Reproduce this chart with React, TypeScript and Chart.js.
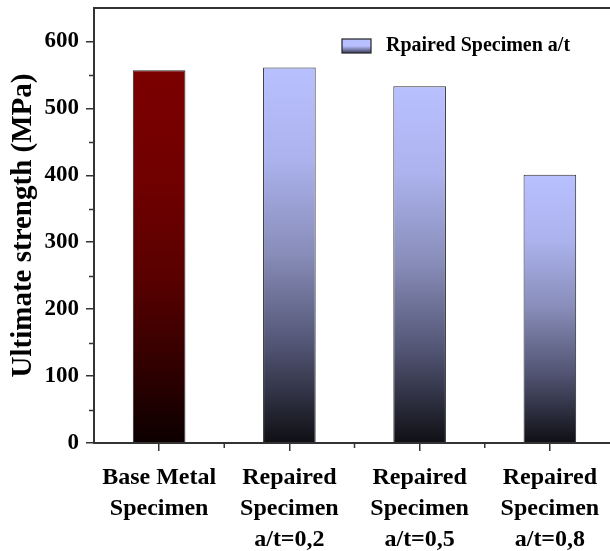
import React, { useEffect, useRef } from "react";
import { Chart, registerables } from "chart.js";

Chart.register(...registerables);

const CATEGORIES: string[][] = [
  ["Base Metal", "Specimen"],
  ["Repaired", "Specimen", "a/t=0,2"],
  ["Repaired", "Specimen", "a/t=0,5"],
  ["Repaired", "Specimen", "a/t=0,8"],
];
const STRENGTH = [557, 561, 533, 401];
const Y_TICKS = [0, 100, 200, 300, 400, 500, 600];
const Y_MINOR_TICKS = [50, 150, 250, 350, 450, 550];
const Y_MAX = 650;
const LEGEND_LABEL = "Rpaired Specimen a/t";
const Y_TITLE = "Ultimate strength (MPa)";

const FONT = "'Liberation Serif', 'Times New Roman', serif";
const AXIS_COLOR = "#333333";
const BASE_STOPS: [number, string][] = [
  [0, "#7c0000"],
  [0.3, "#700000"],
  [0.55, "#5a0000"],
  [0.8, "#300000"],
  [1, "#0c0000"],
];
const REP_STOPS: [number, string][] = [
  [0, "#b9c0ff"],
  [0.25, "#abb2ec"],
  [0.5, "#878cb8"],
  [0.75, "#4f5270"],
  [1, "#0f0f14"],
];
const REP_TOP = "#b9c0ff";

const framePlugin = {
  id: "frameAndLegend",
  afterDatasetsDraw(chart: any) {
    const { ctx, chartArea: a, scales } = chart;
    if (!a) return;
    ctx.save();
    ctx.strokeStyle = AXIS_COLOR;
    ctx.lineWidth = 2;
    ctx.strokeRect(a.left, a.top, a.right - a.left, a.bottom - a.top);
    ctx.lineWidth = 1.5;
    ctx.beginPath();
    for (const v of Y_MINOR_TICKS) {
      const py = Math.round(scales.y.getPixelForValue(v)) + 0.5;
      ctx.moveTo(a.left - 5, py);
      ctx.lineTo(a.left, py);
    }
    const n = CATEGORIES.length;
    const w = (a.right - a.left) / n;
    for (let i = 1; i <= n; i++) {
      const px = a.left + i * w;
      ctx.moveTo(px, a.bottom);
      ctx.lineTo(px, a.bottom + 5);
    }
    ctx.stroke();

    // legend (inside plot area)
    const sx = 342, sy = 39, sw = 29, sh = 14;
    const g = ctx.createLinearGradient(0, sy, 0, sy + sh);
    g.addColorStop(0, REP_TOP);
    g.addColorStop(0.5, REP_TOP);
    g.addColorStop(1, "#3a3c58");
    ctx.fillStyle = g;
    ctx.fillRect(sx, sy, sw, sh);
    ctx.lineWidth = 1.2;
    ctx.strokeStyle = "#222";
    ctx.strokeRect(sx, sy, sw, sh);
    ctx.fillStyle = "#000";
    ctx.font = `bold 20px ${FONT}`;
    ctx.textBaseline = "middle";
    ctx.textAlign = "left";
    ctx.fillText(LEGEND_LABEL, 386, sy + sh / 2);
    ctx.restore();
  },
};

export default function App() {
  const ref = useRef<HTMLCanvasElement>(null);
  useEffect(() => {
    if (!ref.current) return;
    const chart = new Chart(ref.current, {
      type: "bar",
      data: {
        labels: CATEGORIES,
        datasets: [
          {
            label: LEGEND_LABEL,
            data: STRENGTH,
            backgroundColor: (c: any) => {
              const ch = c.chart;
              const y = ch.scales && ch.scales.y;
              if (!y || c.type !== "data") return REP_TOP;
              const top = y.getPixelForValue(c.raw);
              const bot = y.getPixelForValue(0);
              if (!isFinite(top) || !isFinite(bot)) return REP_TOP;
              const g = ch.ctx.createLinearGradient(0, top, 0, bot);
              const stops = c.dataIndex === 0 ? BASE_STOPS : REP_STOPS;
              for (const [o, col] of stops) g.addColorStop(o, col);
              return g;
            },
            borderColor: "#2a2a2a",
            borderWidth: 1,
            barPercentage: 0.404,
            categoryPercentage: 1,
          },
        ],
      },
      options: {
        animation: false,
        responsive: false,
        devicePixelRatio: 1,
        layout: { padding: { top: 8, right: 10, left: 0, bottom: 0 } },
        plugins: {
          legend: { display: false },
          tooltip: { enabled: false },
        },
        scales: {
          x: {
            offset: true,
            grid: {
              offset: false,
              drawOnChartArea: false,
              drawTicks: true,
              tickLength: 8,
              color: AXIS_COLOR,
              lineWidth: 1.5,
            },
            border: { display: false },
            ticks: {
              color: "#000",
              font: { family: FONT, size: 24, weight: "bold", lineHeight: 1.29 },
              padding: 11,
              maxRotation: 0,
              autoSkip: false,
            },
            afterFit: (s: any) => {
              s.height = 108;
            },
          },
          y: {
            min: 0,
            max: Y_MAX,
            grid: {
              drawOnChartArea: false,
              drawTicks: true,
              tickLength: 8,
              color: AXIS_COLOR,
              lineWidth: 1.5,
            },
            border: { display: false },
            afterBuildTicks: (s: any) => {
              s.ticks = Y_TICKS.map((v) => ({ value: v }));
            },
            ticks: {
              color: "#000",
              font: { family: FONT, size: 23, weight: "bold" },
              padding: 7,
            },
            title: {
              display: true,
              text: Y_TITLE,
              color: "#000",
              font: { family: FONT, size: 29, weight: "bold", lineHeight: 1.2 },
              padding: { top: 6, bottom: 0 },
            },
            afterFit: (s: any) => {
              s.width = 94;
              s.paddingTop = 0;
              s.paddingBottom = 0;
            },
          },
        },
      },
      plugins: [framePlugin],
    });
    return () => chart.destroy();
  }, []);
  return (
    <div
      style={{
        position: "fixed",
        left: 0,
        top: 0,
        width: 610,
        height: 551,
        overflow: "hidden",
        background: "#fff",
      }}
    >
      <canvas ref={ref} width={625} height={551} style={{ width: 625, height: 551, display: "block" }} />
    </div>
  );
}
